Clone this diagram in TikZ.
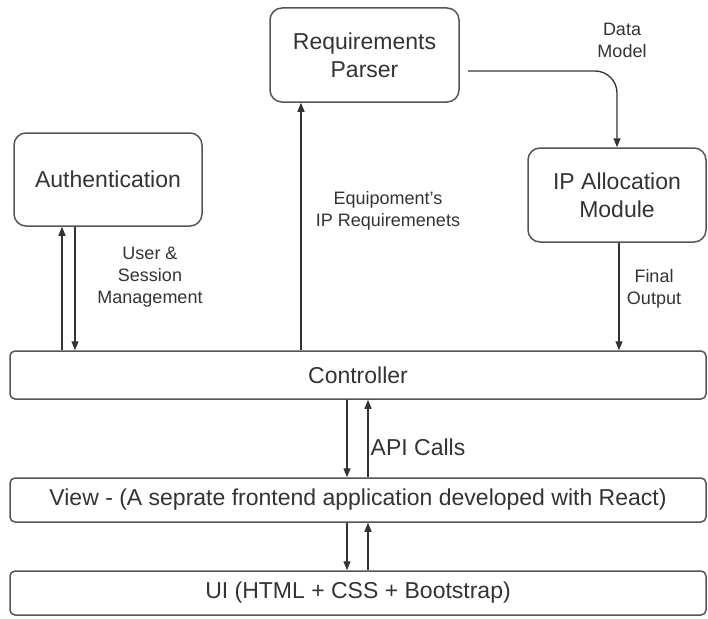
\documentclass[tikz,border=0pt]{standalone}
\usepackage{fontspec}
\setmainfont{Liberation Sans}
\usetikzlibrary{arrows.meta}
\definecolor{edge}{HTML}{555555}
\definecolor{ink}{HTML}{333333}
\begin{document}
\begin{tikzpicture}[x=1pt,y=-1pt,
  box/.style={draw=edge,line width=1.5pt,rounded corners=12pt,text=ink,align=center,
    inner sep=0pt,font=\fontsize{23}{28}\selectfont},
  bar/.style={draw=edge,line width=1.5pt,rounded corners=5pt,text=ink,align=center,
    inner sep=0pt,font=\fontsize{23}{28}\selectfont},
  lbl/.style={text=ink,align=center,inner sep=0pt,font=\fontsize{18}{22}\selectfont},
  arr/.style={draw=ink,line width=1.3pt,-{Triangle[length=9pt,width=7pt]}}]
\useasboundingbox (0,0) rectangle (708,618);
\node[box,minimum width=188,minimum height=93] (auth) at (108,179.5) {Authentication};
\node[box,minimum width=189,minimum height=94] (req) at (364.5,55) {Requirements\\Parser};
\node[box,minimum width=178,minimum height=94] (ipa) at (617,195) {IP Allocation\\Module};
\node[bar,minimum width=696,minimum height=48] (ctrl) at (358,375) {Controller};
\node[bar,minimum width=696,minimum height=44] (view) at (358,500) {View - (A seprate frontend application developed with React)};
\node[bar,minimum width=696,minimum height=44] (ui) at (358,593) {UI (HTML + CSS + Bootstrap)};
\coordinate (x62) at (62,0);
\coordinate (x75) at (75,0);
\coordinate (x301) at (301,0);
\coordinate (x619) at (619,0);
\coordinate (x347) at (347,0);
\coordinate (x368) at (368,0);
\coordinate (dm) at (468,71);
\draw[arr] (ctrl.north -| x62) -- (auth.south -| x62);
\draw[arr] (auth.south -| x75) -- (ctrl.north -| x75);
\draw[arr] (ctrl.north -| x301) -- (req.south -| x301);
\draw[arr,rounded corners=22pt] (dm) -| (ipa.north);
\draw[arr] (ipa.south -| x619) -- (ctrl.north -| x619);
\draw[arr] (ctrl.south -| x347) -- (view.north -| x347);
\draw[arr] (view.north -| x368) -- (ctrl.south -| x368);
\draw[arr] (view.south -| x347) -- (ui.north -| x347);
\draw[arr] (ui.north -| x368) -- (view.south -| x368);
\node[lbl] (l1) at (150,277) {User \&\\Session\\Management};
\node[lbl] (l2) at (388,211) {Equipoment's\\IP Requiremenets};
\node[lbl] (l3) at (622,40) {Data\\Model};
\node[lbl] (l4) at (654,289) {Final\\Output};
\node[text=ink,inner sep=0pt,font=\fontsize{23}{28}\selectfont] (l5) at (418,447) {API Calls};
\end{tikzpicture}
\end{document}
